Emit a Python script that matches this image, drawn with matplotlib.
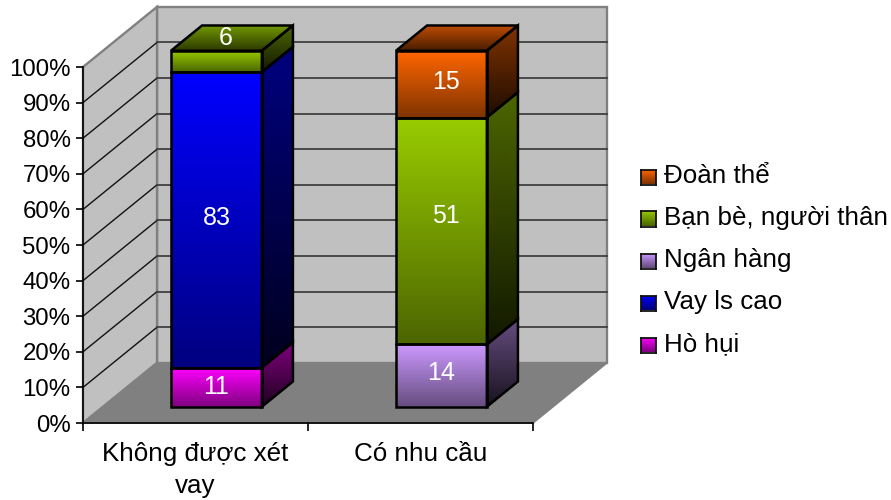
import matplotlib
matplotlib.use("Agg")
import matplotlib.pyplot as plt
import numpy as np
from matplotlib.patches import Polygon

plt.rcParams["font.family"] = ["Liberation Sans", "DejaVu Sans"]

categories = ["Không được xét\nvay", "Có nhu cầu"]
series_names = ["Hò hụi", "Vay ls cao", "Ngân hàng", "Bạn bè, người thân", "Đoàn thể"]
ho_hui = [11, 0]
vay_ls_cao = [83, 0]
ngan_hang = [0, 14]
ban_be = [6, 51]
doan_the = [0, 15]
series_values = [ho_hui, vay_ls_cao, ngan_hang, ban_be, doan_the]
series_colors = ["#FF00FF", "#0000FF", "#CC99FF", "#99CC00", "#FF6600"]

# nudges for the value labels (category units, percent), per series and bar
label_shift = {(0, 0): (0.0, 0.0), (1, 0): (0.0, 0.5), (3, 0): (0.04, 6.7),
               (2, 1): (0.0, 0.8), (3, 1): (0.02, 4.2), (4, 1): (0.02, 0.5)}

# 3d look: one unit of depth moves this far in category units / percent
DX = 0.329
DY = 16.9
BAR_LEFT = 0.302
BAR_W = 0.404
D1 = 0.27
D2 = 0.69


def proj(x, y, d):
    return (x + d * DX, y + d * DY)


def shade(color, f):
    return np.array(matplotlib.colors.to_rgb(color)) * f


def gradient_face(ax, pts, top, bottom, edge=True):
    pts = np.array(pts)
    ramp = np.linspace(0, 1, 64)[:, None, None]
    img = top[None, None, :] * (1 - ramp) + bottom[None, None, :] * ramp
    ext = [pts[:, 0].min(), pts[:, 0].max(), pts[:, 1].min(), pts[:, 1].max()]
    im = ax.imshow(img, extent=ext, origin="upper", aspect="auto",
                   interpolation="bilinear", zorder=3)
    clip = Polygon(pts, closed=True, transform=ax.transData)
    im.set_clip_path(clip)
    im.set_clip_box(ax.figure.bbox)
    if edge:
        ax.add_patch(Polygon(pts, closed=True, fill=False, edgecolor="black",
                             linewidth=1.8, zorder=4, clip_on=False,
                             joinstyle="miter"))


fig = plt.figure(figsize=(8.91, 5), dpi=100, facecolor="white")
ax = fig.add_axes([83 / 891, 77 / 500, 450 / 891, 356 / 500])
ax.set_xlim(0, 2)
ax.set_ylim(0, 100)
ax.patch.set_visible(False)

# walls and floor
wall = "#C0C0C0"
floor = "#808080"
ax.add_patch(Polygon([proj(0, 0, 1), proj(2, 0, 1), proj(2, 100, 1), proj(0, 100, 1)],
                     facecolor=wall, edgecolor=floor, linewidth=1.7, clip_on=False, zorder=1))
ax.add_patch(Polygon([proj(0, 0, 0), proj(0, 0, 1), proj(0, 100, 1), proj(0, 100, 0)],
                     facecolor=wall, edgecolor=floor, linewidth=1.7, clip_on=False, zorder=1))
ax.add_patch(Polygon([proj(0, 0, 0), proj(2, 0, 0), proj(2, 0, 1), proj(0, 0, 1)],
                     facecolor=floor, edgecolor=floor, linewidth=1.2, clip_on=False, zorder=1))

# gridlines on the side and back walls
for pct in range(10, 100, 10):
    x0, y0 = proj(0, pct, 0)
    x1, y1 = proj(0, pct, 1)
    x2, y2 = proj(2, pct, 1)
    ax.plot([x0, x1], [y0, y1], color="#111111", lw=1.0, clip_on=False, zorder=2)
    ax.plot([x1, x2], [y1, y2], color="#404040", lw=1.3, clip_on=False, zorder=2)

# stacked bars, scaled to 100% per category
values = np.array(series_values, dtype=float)
shares = values / values.sum(axis=0) * 100
for b in range(len(categories)):
    left = b + BAR_LEFT
    right = left + BAR_W
    base = 0.0
    last = None
    for s in range(len(series_names)):
        if values[s, b] == 0:
            continue
        low = base
        high = base + shares[s, b]
        col = series_colors[s]
        side = [proj(right, low, D1), proj(right, low, D2), proj(right, high, D2), proj(right, high, D1)]
        gradient_face(ax, side, shade(col, 0.5), shade(col, 0.12))
        front = [proj(left, low, D1), proj(right, low, D1), proj(right, high, D1), proj(left, high, D1)]
        gradient_face(ax, front, shade(col, 1.0), shade(col, 0.5))
        sx, sy = label_shift[(s, b)]
        cx, cy = proj((left + right) / 2 + sx, (low + high) / 2 + sy, D1)
        ax.text(cx, cy, str(int(values[s, b])), color="white", fontsize=18,
                ha="center", va="center", zorder=6, clip_on=False)
        base = high
        last = col
    lid = [proj(left, 100, D1), proj(right, 100, D1), proj(right, 100, D2), proj(left, 100, D2)]
    gradient_face(ax, lid, shade(last, 0.75), shade(last, 0.28))

# axes: spines, ticks and labels
ax.spines["top"].set_visible(False)
ax.spines["right"].set_visible(False)
ax.spines["left"].set_bounds(0, 100)
ax.spines["left"].set_linewidth(1.2)
ax.spines["bottom"].set_linewidth(1.2)
ax.set_xlim(0, 2)
ax.set_ylim(0, 100)
ax.set_yticks(range(0, 101, 10))
ax.set_yticklabels([f"{p}%" for p in range(0, 101, 10)], fontsize=17.3)
ax.set_xticks([0, 1, 2])
ax.set_xticklabels([])
ax.set_xticks([0.5, 1.5], minor=True)
ax.set_xticklabels(categories, minor=True, fontsize=18.7, linespacing=1.42)
ax.tick_params(axis="x", which="minor", length=0, pad=14)
ax.tick_params(axis="x", which="major", length=6, width=1.2)
ax.tick_params(axis="y", length=5, width=1.2, pad=4)

# legend, top row is the last series
rows = [177, 219, 261, 303, 345]
for name, col, yc in zip(series_names[::-1], series_colors[::-1], rows):
    sw = fig.add_axes([641 / 891, (500 - yc - 7.5) / 500, 15 / 891, 15 / 500])
    ramp = np.linspace(0, 1, 16)[:, None, None]
    sw.imshow(shade(col, 1.0)[None, None, :] * (1 - ramp) + shade(col, 0.5)[None, None, :] * ramp,
              aspect="auto", interpolation="bilinear")
    sw.set_xticks([])
    sw.set_yticks([])
    for sp in sw.spines.values():
        sp.set_linewidth(1.3)
        sp.set_color("#111111")
    fig.text(664 / 891, (500 - yc + 1) / 500, name, fontsize=18.7, ha="left", va="center")

fig.savefig("out.png", dpi=100, facecolor="white")
